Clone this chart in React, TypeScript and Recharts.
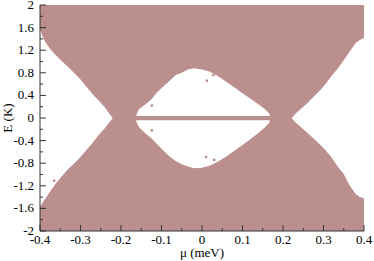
// -----------------------------------------------------------------------------
// SPECTRAL MAP E vs MU
// Filled region of allowed energies with the gaps left white.
// -----------------------------------------------------------------------------
import React from 'react';
import { ComposedChart, Area, Scatter, XAxis, YAxis } from 'recharts';

const PINK = '#bc8f8f';
const AXIS = '#333';
const FONT = 'Liberation Serif, Times New Roman, Times, serif';

// Axis ticks (only the labelled ones get text)
const xTicks = [-0.4, -0.35, -0.3, -0.25, -0.2, -0.15, -0.1, -0.05, 0, 0.05, 0.1, 0.15, 0.2, 0.25, 0.3, 0.35, 0.4];
const xLabelled = [-0.4, -0.3, -0.2, -0.1, 0, 0.1, 0.2, 0.3, 0.4];
const yTicks = [-2, -1.8, -1.6, -1.4, -1.2, -1, -0.8, -0.6, -0.4, -0.2, 0, 0.2, 0.4, 0.6, 0.8, 1, 1.2, 1.4, 1.6, 1.8, 2];
const yLabelled = [-2, -1.6, -1.2, -0.8, -0.4, 0, 0.4, 0.8, 1.2, 1.6, 2];

// Full filled band
const bgX = [-0.4, 0.4];
const bgLo = [-2, -2];
const bgHi = [2, 2];

// Left gap (white triangle)
const leftX = [-0.4, -0.39, -0.375, -0.36, -0.345, -0.33, -0.315, -0.3, -0.285, -0.27, -0.255, -0.24, -0.23, -0.221];
const leftHi = [1.57, 1.38, 1.22, 1.1, 1.0, 0.9, 0.79, 0.68, 0.55, 0.42, 0.31, 0.19, 0.09, 0.0];
const leftLo = [-1.57, -1.46, -1.3, -1.15, -1.02, -0.9, -0.8, -0.69, -0.56, -0.44, -0.3, -0.18, -0.09, -0.01];

// Central lens, split by a thin filled line at E = 0
const lensX = [-0.162, -0.155, -0.14, -0.125, -0.11, -0.095, -0.08, -0.065, -0.05, -0.035, -0.02, 0, 0.02, 0.04, 0.06, 0.08, 0.1, 0.12, 0.14, 0.155, 0.167];
const lensUpper = [0.06, 0.16, 0.24, 0.33, 0.46, 0.56, 0.66, 0.76, 0.8, 0.86, 0.88, 0.86, 0.82, 0.74, 0.64, 0.54, 0.44, 0.34, 0.24, 0.16, 0.07];
const lensLower = [-0.07, -0.17, -0.27, -0.36, -0.47, -0.58, -0.68, -0.76, -0.82, -0.86, -0.89, -0.88, -0.84, -0.77, -0.68, -0.58, -0.48, -0.37, -0.26, -0.17, -0.08];
const lineTop = 0.035;
const lineBottom = -0.04;

// Right gap (white triangle)
const rightX = [0.222, 0.23, 0.245, 0.26, 0.275, 0.29, 0.305, 0.32, 0.335, 0.35, 0.365, 0.38, 0.39, 0.4];
const rightHi = [0.0, 0.07, 0.17, 0.26, 0.37, 0.48, 0.6, 0.75, 0.87, 1.02, 1.18, 1.33, 1.38, 1.42];
const rightLo = [-0.01, -0.07, -0.17, -0.26, -0.36, -0.46, -0.57, -0.7, -0.86, -0.99, -1.2, -1.35, -1.4, -1.42];

// Stray filled points inside the gaps
const dotX = [-0.124, -0.124, 0.012, 0.028, 0.01, 0.03, -0.365];
const dotY = [0.22, -0.22, 0.66, 0.76, -0.69, -0.74, -1.11];

const table = new Map<number, any>();
const put = (x: number, key: string, val: number[]) => {
  const row = table.get(x) ?? { x };
  row[key] = val;
  table.set(x, row);
};
bgX.forEach((x, i) => put(x, 'bg', [bgLo[i], bgHi[i]]));
leftX.forEach((x, i) => put(x, 'left', [leftLo[i], leftHi[i]]));
lensX.forEach((x, i) => {
  put(x, 'lensUp', [lineTop, lensUpper[i]]);
  put(x, 'lensDown', [lensLower[i], lineBottom]);
});
rightX.forEach((x, i) => put(x, 'right', [rightLo[i], rightHi[i]]));
const data = [...table.values()].sort((a, b) => a.x - b.x);
const dots = dotX.map((x, i) => ({ x, y: dotY[i] }));

const isIn = (v: number, list: number[]) => list.some((t) => Math.abs(t - v) < 1e-6);
const fmt = (v: number) => String(Math.round(v * 100) / 100);

const textStyle = { fontFamily: FONT, fontSize: 13 };

// -----------------------------------------------------------------------------
// TICKS (drawn inward, like the original plot)
// -----------------------------------------------------------------------------
const BottomTick = ({ x, y, payload }: any) => {
  const major = isIn(payload.value, xLabelled);
  return (
    <g>
      <line x1={x} x2={x} y1={y} y2={y - (major ? 6 : 3)} stroke={AXIS} />
      {major && (
        <text x={x} y={y + 13} textAnchor="middle" fill="#000" style={textStyle}>
          {fmt(payload.value)}
        </text>
      )}
    </g>
  );
};

const TopTick = ({ x, y, payload }: any) => {
  const major = isIn(payload.value, xLabelled);
  return <line x1={x} x2={x} y1={y} y2={y + (major ? 6 : 3)} stroke={AXIS} />;
};

const LeftTick = ({ x, y, payload }: any) => {
  const major = isIn(payload.value, yLabelled);
  return (
    <g>
      <line x1={x} x2={x + (major ? 6 : 3)} y1={y} y2={y} stroke={AXIS} />
      {major && (
        <text x={x - 6} y={y + 4} textAnchor="end" fill="#000" style={textStyle}>
          {fmt(payload.value)}
        </text>
      )}
    </g>
  );
};

const RightTick = ({ x, y, payload }: any) => {
  const major = isIn(payload.value, yLabelled);
  return <line x1={x} x2={x - (major ? 6 : 3)} y1={y} y2={y} stroke={AXIS} />;
};

const hole = (key: string) => (
  <Area
    key={key}
    type="linear"
    dataKey={key}
    fill="#fff"
    fillOpacity={1}
    stroke="none"
    dot={false}
    activeDot={false}
    isAnimationActive={false}
  />
);

export default function App() {
  return (
    <div style={{ position: 'absolute', left: 0, top: 0, fontFamily: FONT }}>
      <ComposedChart width={374} height={261} data={data} margin={{ top: 5, right: 10, bottom: 0, left: 0 }}>
        <XAxis
          dataKey="x"
          type="number"
          domain={[-0.4, 0.4]}
          ticks={xTicks}
          interval={0}
          allowDataOverflow
          height={30}
          tickSize={0}
          tickMargin={0}
          tickLine={false}
          axisLine={{ stroke: AXIS }}
          tick={<BottomTick />}
          label={{ value: 'μ (meV)', position: 'insideBottom', offset: 4, fill: '#000', style: textStyle }}
        />
        <XAxis
          xAxisId="top"
          orientation="top"
          type="number"
          domain={[-0.4, 0.4]}
          ticks={xTicks}
          interval={0}
          allowDataOverflow
          height={0}
          tickSize={0}
          tickMargin={0}
          tickLine={false}
          axisLine={{ stroke: AXIS }}
          tick={<TopTick />}
        />
        <YAxis
          type="number"
          domain={[-2, 2]}
          ticks={yTicks}
          interval={0}
          allowDataOverflow
          width={40}
          tickSize={0}
          tickMargin={0}
          tickLine={false}
          axisLine={{ stroke: AXIS }}
          tick={<LeftTick />}
          label={{ value: 'E (K)', angle: -90, position: 'insideLeft', offset: 7, textAnchor: 'middle', fill: '#000', style: textStyle }}
        />
        <YAxis
          yAxisId="right"
          orientation="right"
          type="number"
          domain={[-2, 2]}
          ticks={yTicks}
          interval={0}
          allowDataOverflow
          width={0}
          tickSize={0}
          tickMargin={0}
          tickLine={false}
          axisLine={{ stroke: AXIS }}
          tick={<RightTick />}
        />
        <Area
          type="linear"
          dataKey="bg"
          fill={PINK}
          fillOpacity={1}
          stroke="none"
          connectNulls
          dot={false}
          activeDot={false}
          isAnimationActive={false}
        />
        {hole('left')}
        {hole('lensUp')}
        {hole('lensDown')}
        {hole('right')}
        <Scatter
          data={dots}
          dataKey="y"
          fill={PINK}
          isAnimationActive={false}
          shape={(p: any) => <rect x={p.cx - 1.2} y={p.cy - 1.2} width={2.4} height={2.4} fill={PINK} />}
        />
      </ComposedChart>
    </div>
  );
}
